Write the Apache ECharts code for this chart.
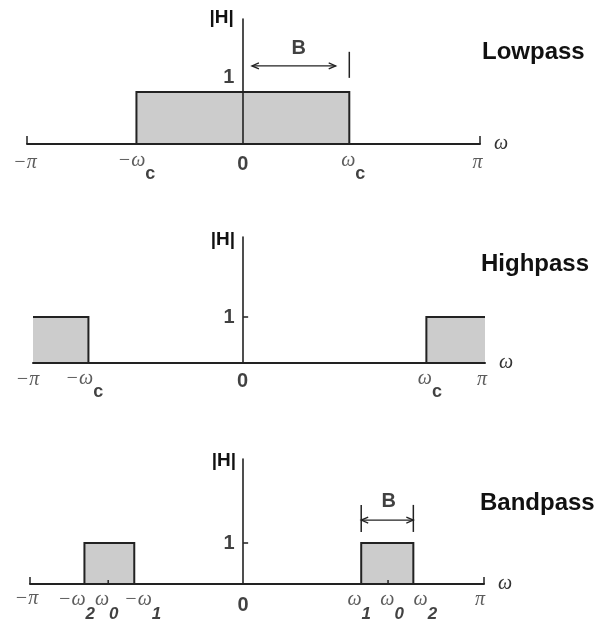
<!DOCTYPE html>
<html>
<head>
<meta charset="utf-8">
<title>Ideal filter magnitude responses</title>
<script src="https://cdn.jsdelivr.net/npm/echarts@6/dist/echarts.min.js"></script>
<style>
  html, body { margin: 0; padding: 0; background: #ffffff; }
  #chart { width: 599px; height: 628px; }
</style>
</head>
<body>
<div id="chart"></div>
<script>
// ---------------------------------------------------------------------------
// Data: magnitude |H| of three ideal filters over the frequency axis ω (rad)
// ---------------------------------------------------------------------------
const panelNames = ['Lowpass', 'Highpass', 'Bandpass'];

// frequency axis extent of each sketch (left end marked −π, right end π)
const lowpassOmega = [-2.86, Math.PI];
const highpassOmega = [-2.73, Math.PI];
const bandpassOmega = [-2.78, Math.PI];

// top of each |H| axis
const lowpassTop = 2.40;
const highpassTop = 2.74;
const bandpassTop = 3.05;

// unit gain mark on the |H| axis
const gainTick = [1];

// pass bands: [from ω, to ω, gain]
const lowpassBands = [[-1.41, 1.41, 1]];
const highpassBands = [[-2.73, -2.01, 1], [2.38, Math.PI, 1]];
const bandpassBands = [[-2.07, -1.42, 1], [1.54, 2.22, 1]];

// frequency tick labels: position and [symbol, subscript]
const lowpassTickAt = [-2.86, -1.41, 0, 1.41, Math.PI];
const lowpassTickText = [['−π'], ['−ω', 'c'], ['0'], ['ω', 'c'], ['π']];
const highpassTickAt = [-2.73, -2.01, 0, 2.38, Math.PI];
const highpassTickText = [['−π'], ['−ω', 'c'], ['0'], ['ω', 'c'], ['π']];
const bandpassTickAt = [-2.78, -2.07, -1.76, -1.42, 0, 1.54, 1.89, 2.22, Math.PI];
const bandpassTickText = [['−π'], ['−ω', '2'], ['ω', '0'], ['−ω', '1'], ['0'],
                          ['ω', '1'], ['ω', '0'], ['ω', '2'], ['π']];

// bandwidth arrows: [from ω, to ω, height]
const lowpassSpan = [[0.12, 1.23, 1.5]];
const bandpassSpan = [[1.54, 2.22, 1.56]];
// short vertical strokes: [ω, from |H|, to |H|]
const lowpassStrokes = [[1.41, 1.27, 1.77]];
const bandpassStrokes = [[1.54, 1.27, 1.93], [2.22, 1.27, 1.93], [-1.76, 0, 0.1], [1.89, 0, 0.1]];
// bandwidth letter: [ω, height]
const lowpassB = [[0.74, 1.84]];
const bandpassB = [[1.90, 2.01]];

// ---------------------------------------------------------------------------
// Styling and layout
// ---------------------------------------------------------------------------
const INK = '#222222';
const FILL = '#cccccc';
const SERIF = '"Liberation Serif", "DejaVu Serif", serif';
const SANS = '"Liberation Sans", Arial, sans-serif';

const layout = [
  { grid: { left: 27, width: 453, top: 19, height: 125 }, endTick: 8, hGap: 1, hPad: 9,
    oneShift: [0, -14], title: [482, 52],
    nudge: [[-2, 19], [0, 17], [0, 20], [4, 17], [-2.5, 19]] },
  { grid: { left: 33, width: 452, top: 237, height: 126 }, endTick: 0, hGap: -3, hPad: 8,
    oneShift: [0, 0], title: [481, 264],
    nudge: [[-5.5, 16.5], [-4, 16], [-0.5, 18.5], [3.5, 16], [-3, 16.5]] },
  { grid: { left: 30, width: 454, top: 459, height: 125 }, endTick: 7, hGap: -2, hPad: 7,
    oneShift: [0, 0], title: [480, 503],
    nudge: [[-3.5, 14.5], [-8, 16], [-1.5, 16], [8.5, 16], [0, 21],
            [-2, 16], [4, 16], [12, 16], [-4, 15.5]] }
];

const panels = [
  { omega: lowpassOmega, top: lowpassTop, bands: lowpassBands, tickAt: lowpassTickAt,
    tickText: lowpassTickText, span: lowpassSpan, strokes: lowpassStrokes, b: lowpassB },
  { omega: highpassOmega, top: highpassTop, bands: highpassBands, tickAt: highpassTickAt,
    tickText: highpassTickText, span: [], strokes: [], b: [] },
  { omega: bandpassOmega, top: bandpassTop, bands: bandpassBands, tickAt: bandpassTickAt,
    tickText: bandpassTickText, span: bandpassSpan, strokes: bandpassStrokes, b: bandpassB }
];

const tickRich = {
  m:  { fontFamily: SERIF, fontStyle: 'italic', fontSize: 20, color: '#333', lineHeight: 45, verticalAlign: 'middle' },
  z:  { fontFamily: SANS, fontWeight: 'bold', fontSize: 20, color: '#111', lineHeight: 45, verticalAlign: 'middle' },
  sc: { fontFamily: SANS, fontWeight: 'bold', fontSize: 18, color: '#111', lineHeight: 18, verticalAlign: 'bottom' },
  sd: { fontFamily: SANS, fontWeight: 'bold', fontStyle: 'italic', fontSize: 17, color: '#111', lineHeight: 18, verticalAlign: 'bottom' }
};

function tickFormatter(parts) {
  const main = parts[0];
  let s = /^[0-9]$/.test(main) ? '{z|' + main + '}' : '{m|' + main + '}';
  if (parts[1]) s += (/^[0-9]$/.test(parts[1]) ? '{sd|' : '{sc|') + parts[1] + '}';
  return s;
}

// filled pass band; edges lying on the ends of the axis are left open
function bandRenderer(extent) {
  return function (params, api) {
    const x0 = api.value(0), x1 = api.value(1), g = api.value(2);
    const bl = api.coord([x0, 0]);
    const tr = api.coord([x1, g]);
    const pts = [];
    if (x0 > extent[0] + 1e-9) pts.push([bl[0], bl[1]]);
    pts.push([bl[0], tr[1]], [tr[0], tr[1]]);
    if (x1 < extent[1] - 1e-9) pts.push([tr[0], bl[1]]);
    return {
      type: 'group',
      children: [
        { type: 'rect', shape: { x: bl[0], y: tr[1], width: tr[0] - bl[0], height: bl[1] - tr[1] },
          style: { fill: FILL } },
        { type: 'polyline', shape: { points: pts },
          style: { stroke: INK, lineWidth: 2, fill: null } }
      ]
    };
  };
}

// double-headed bandwidth arrow
function spanRenderer(params, api) {
  const a = api.coord([api.value(0), api.value(2)]);
  const b = api.coord([api.value(1), api.value(2)]);
  const hw = 7, hh = 3;
  const st = { stroke: INK, lineWidth: 1.3, fill: null };
  return {
    type: 'group',
    children: [
      { type: 'line', shape: { x1: a[0], y1: a[1], x2: b[0], y2: b[1] }, style: st },
      { type: 'polyline', shape: { points: [[a[0] + hw, a[1] - hh], [a[0], a[1]], [a[0] + hw, a[1] + hh]] }, style: st },
      { type: 'polyline', shape: { points: [[b[0] - hw, b[1] - hh], [b[0], b[1]], [b[0] - hw, b[1] + hh]] }, style: st }
    ]
  };
}

function strokeRenderer(params, api) {
  const p = api.coord([api.value(0), api.value(1)]);
  const q = api.coord([api.value(0), api.value(2)]);
  return { type: 'line', shape: { x1: p[0], y1: p[1], x2: q[0], y2: q[1] },
           style: { stroke: INK, lineWidth: 1.5 } };
}

const grids = [], xAxes = [], yAxes = [], series = [], graphics = [];

panels.forEach(function (p, i) {
  const L = layout[i];
  grids.push(Object.assign({ containLabel: false }, L.grid));

  xAxes.push({
    gridIndex: i, type: 'value', min: p.omega[0], max: p.omega[1], z: 4,
    axisLine: { show: true, onZero: true, lineStyle: { color: INK, width: 2 } },
    axisTick: { show: L.endTick > 0, inside: true, length: L.endTick, customValues: p.omega,
                lineStyle: { color: INK, width: 1.5 } },
    axisLabel: { show: false },
    splitLine: { show: false },
    name: 'ω', nameLocation: 'end', nameGap: 14,
    nameTextStyle: { fontFamily: SERIF, fontStyle: 'italic', fontSize: 20, color: '#333',
                     align: 'left', verticalAlign: 'middle', padding: [0, 0, 4, 0] }
  });

  yAxes.push({
    gridIndex: i, type: 'value', min: 0, max: p.top, z: 4,
    axisLine: { show: true, onZero: true, lineStyle: { color: INK, width: 1.6 } },
    axisTick: { show: true, inside: true, length: 5, customValues: gainTick, lineStyle: { color: INK, width: 1.5 } },
    axisLabel: { show: false },
    splitLine: { show: false },
    name: '|H|', nameLocation: 'end', nameGap: L.hGap,
    nameTextStyle: { fontFamily: SANS, fontWeight: 'bold', fontSize: 19, color: '#111',
                     align: 'right', verticalAlign: 'middle', padding: [0, L.hPad, 0, 0] }
  });

  series.push({
    type: 'custom', xAxisIndex: i, yAxisIndex: i, z: 2, silent: true,
    renderItem: bandRenderer(p.omega), data: p.bands
  });
  if (p.span.length) {
    series.push({ type: 'custom', xAxisIndex: i, yAxisIndex: i, z: 3, silent: true,
                  renderItem: spanRenderer, data: p.span });
  }
  if (p.strokes.length) {
    series.push({ type: 'custom', xAxisIndex: i, yAxisIndex: i, z: 3, silent: true,
                  renderItem: strokeRenderer, data: p.strokes });
  }
  // frequency tick labels below the ω axis
  series.push({
    type: 'scatter', xAxisIndex: i, yAxisIndex: i, z: 5, silent: true,
    symbolSize: 1, itemStyle: { color: 'rgba(0,0,0,0)' },
    data: p.tickAt.map(function (x, k) {
      return {
        value: [x, 0],
        label: { show: true, position: 'inside', offset: L.nudge[k],
                 formatter: tickFormatter(p.tickText[k]), rich: tickRich }
      };
    })
  });
  // unit gain label beside the |H| axis
  series.push({
    type: 'scatter', xAxisIndex: i, yAxisIndex: i, z: 5, silent: true,
    symbolSize: 1, itemStyle: { color: 'rgba(0,0,0,0)' },
    data: gainTick.map(function (g) { return [0, g]; }),
    label: { show: true, position: 'left', distance: 8, offset: L.oneShift, formatter: '1',
             fontFamily: SANS, fontWeight: 'bold', fontSize: 20, color: '#111' }
  });
  if (p.b.length) {
    series.push({
      type: 'scatter', xAxisIndex: i, yAxisIndex: i, z: 5, silent: true,
      symbolSize: 1, itemStyle: { color: 'rgba(0,0,0,0)' },
      data: p.b,
      label: { show: true, position: 'inside', formatter: 'B',
               fontFamily: SANS, fontWeight: 'bold', fontSize: 20, color: '#111' }
    });
  }

  graphics.push({
    type: 'text', x: L.title[0], y: L.title[1], silent: true,
    style: { text: panelNames[i], font: 'bold 24px "Liberation Sans", Arial, sans-serif',
             fill: '#111', align: 'left', verticalAlign: 'middle' }
  });
});

const chart = echarts.init(document.getElementById('chart'), null, { renderer: 'canvas' });
chart.setOption({
  backgroundColor: '#ffffff',
  animation: false,
  grid: grids,
  xAxis: xAxes,
  yAxis: yAxes,
  series: series,
  graphic: graphics
});
</script>
</body>
</html>
